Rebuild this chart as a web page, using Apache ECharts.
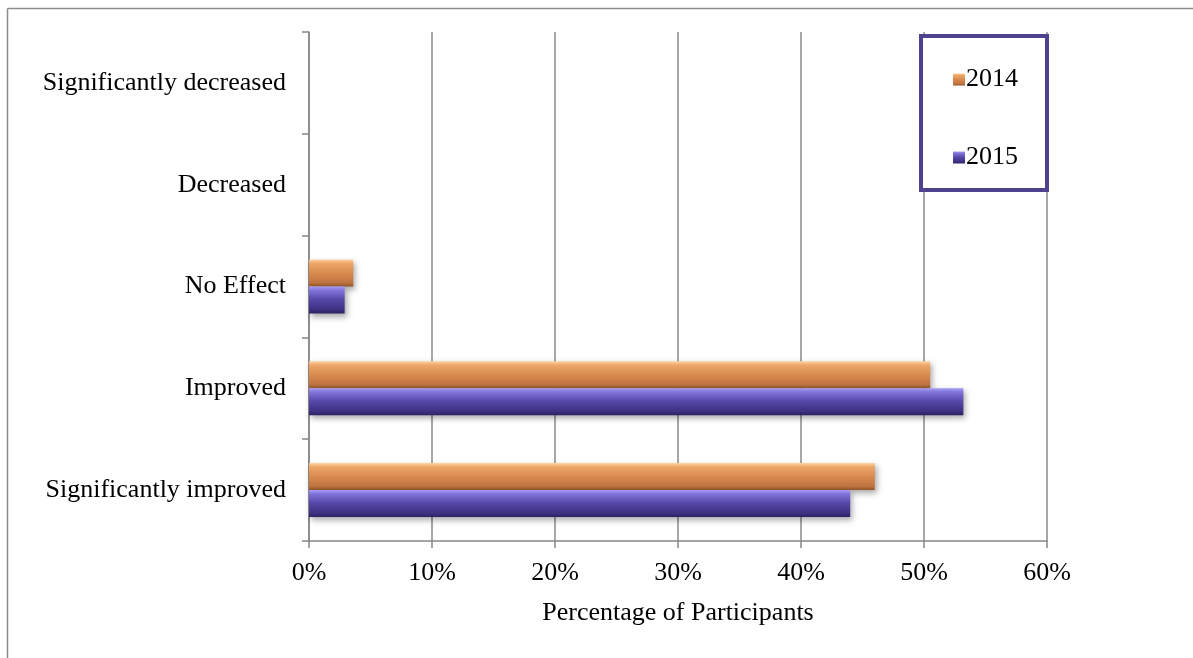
<!DOCTYPE html>
<html>
<head>
<meta charset="utf-8">
<title>Percentage of Participants</title>
<script src="https://cdn.jsdelivr.net/npm/echarts@6/dist/echarts.min.js"></script>
<style>
  html, body { margin: 0; padding: 0; background: #ffffff; }
  #chart { width: 1193px; height: 658px; }
</style>
</head>
<body>
<div id="chart"></div>
<script>
// Response categories, listed from the bottom of the axis to the top
const categories = ['Significantly improved', 'Improved', 'No Effect', 'Decreased', 'Significantly decreased'];
// Share of participants (%) per response
const values2014 = [46.0, 50.5, 3.6, 0, 0];
const values2015 = [44.0, 53.2, 2.9, 0, 0];
const seriesNames = ['2014', '2015'];
const xTicks = [0, 10, 20, 30, 40, 50, 60];

const FONT = "'Liberation Serif', 'Times New Roman', serif";
const FONT_SIZE = 26;

// Bevelled bar fills: light top edge, saturated body, dark lower edge
function bevel(stops) {
  return new echarts.graphic.LinearGradient(0, 0, 0, 1, stops.map(c => ({ offset: c[0], color: c[1] })));
}
const orangeFill = bevel([[0, '#fdd3a3'], [0.14, '#eda768'], [0.5, '#d98b4f'], [0.86, '#bf7340'], [1, '#91542b']]);
const purpleFill = bevel([[0, '#a79cf2'], [0.14, '#8074da'], [0.5, '#5446a6'], [0.86, '#3d3180'], [1, '#2b2163']]);

const chart = echarts.init(document.getElementById('chart'));

const barShadow = {
  shadowColor: 'rgba(0,0,0,0.35)',
  shadowBlur: 6,
  shadowOffsetX: 2,
  shadowOffsetY: 3
};

chart.setOption({
  animation: false,
  backgroundColor: '#ffffff',
  textStyle: { fontFamily: FONT },
  grid: { left: 309, right: 146, top: 32, bottom: 117, containLabel: false },
  graphic: [
    // frame around the chart (left and top edges)
    { type: 'line', shape: { x1: 7.5, y1: 8.5, x2: 7.5, y2: 700 }, style: { stroke: '#8c8c8c', lineWidth: 1.5 } },
    { type: 'line', shape: { x1: 7.5, y1: 8.5, x2: 1200, y2: 8.5 }, style: { stroke: '#8c8c8c', lineWidth: 1.5 } },
    // legend box
    { type: 'rect', shape: { x: 921, y: 36, width: 126, height: 154 }, style: { fill: '#ffffff', stroke: '#4f418d', lineWidth: 4 }, z: 5 }
  ],
  legend: {
    data: seriesNames,
    orient: 'vertical',
    left: 948,
    top: 61,
    itemGap: 51,
    itemWidth: 12,
    itemHeight: 12,
    icon: 'rect',
    z: 10,
    textStyle: { fontFamily: FONT, fontSize: FONT_SIZE, lineHeight: 27, color: '#000000', padding: [0, 0, 0, -4] }
  },
  xAxis: {
    type: 'value',
    min: 0,
    max: 60,
    interval: 10,
    name: 'Percentage of Participants',
    nameLocation: 'middle',
    nameGap: 59,
    nameTextStyle: { fontFamily: FONT, fontSize: FONT_SIZE, color: '#000000' },
    axisLine: { show: true, lineStyle: { color: '#868686', width: 1.5 } },
    axisTick: { show: true, length: 7, lineStyle: { color: '#868686', width: 1.5 } },
    axisLabel: {
      fontFamily: FONT, fontSize: FONT_SIZE, color: '#000000', margin: 19,
      formatter: v => (xTicks.includes(v) ? v + '%' : '')
    },
    splitLine: { show: true, lineStyle: { color: '#8a8a8a', width: 1.5 } }
  },
  yAxis: {
    type: 'category',
    data: categories,
    axisLine: { show: true, lineStyle: { color: '#868686', width: 1.5 } },
    axisTick: { show: true, length: 7, lineStyle: { color: '#868686', width: 1.5 } },
    axisLabel: { fontFamily: FONT, fontSize: FONT_SIZE, color: '#000000', margin: 23 },
    splitLine: { show: false }
  },
  series: [
    {
      name: '2014',
      type: 'bar',
      data: values2014,
      barWidth: 27,
      barGap: '0%',
      itemStyle: Object.assign({ color: orangeFill }, barShadow)
    },
    {
      name: '2015',
      type: 'bar',
      data: values2015,
      barWidth: 27,
      barGap: '0%',
      itemStyle: Object.assign({ color: purpleFill }, barShadow)
    }
  ]
});
</script>
</body>
</html>
